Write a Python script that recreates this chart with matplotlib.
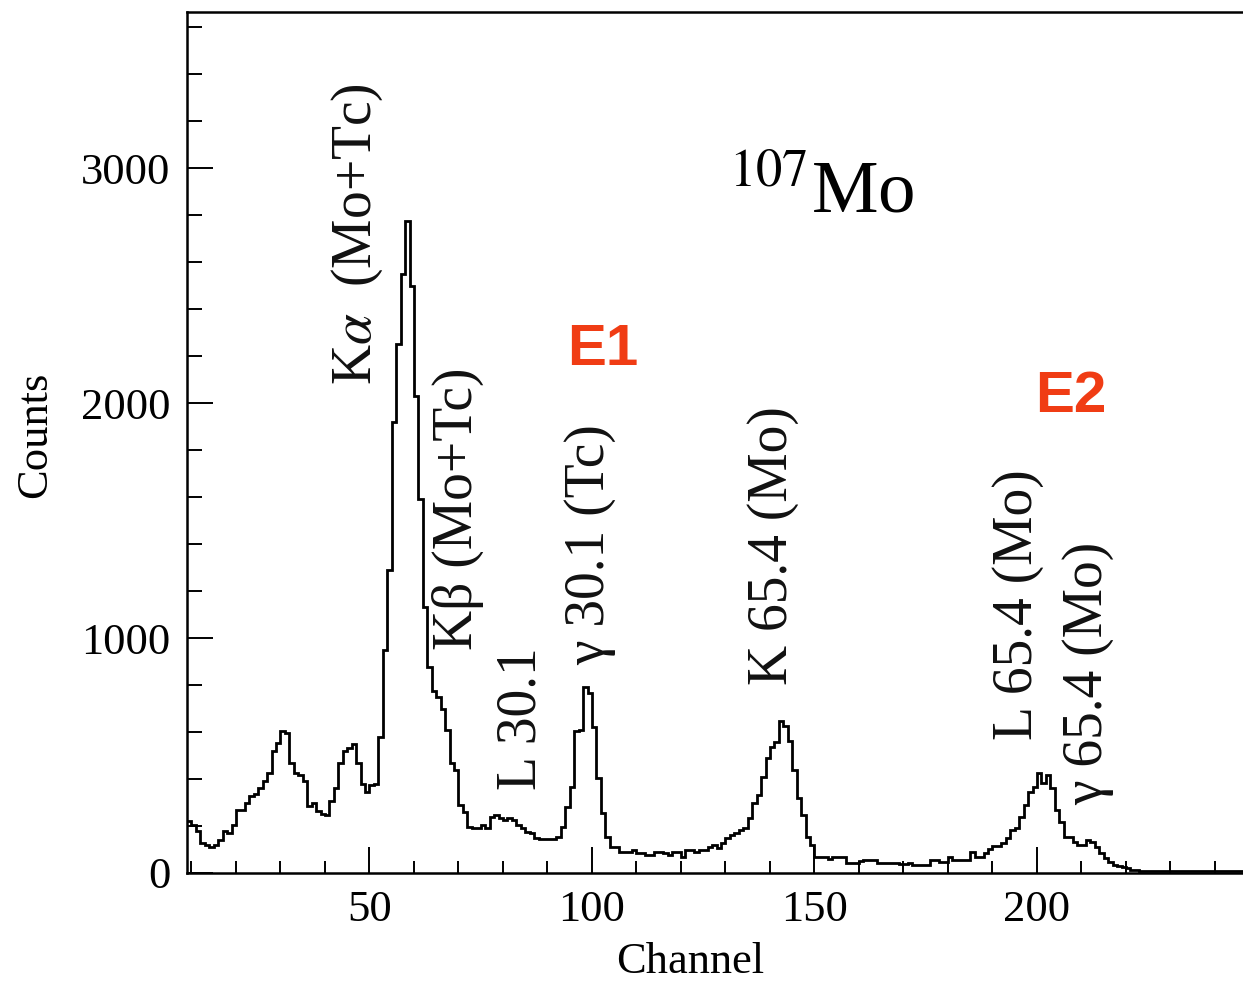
import numpy as np
import matplotlib
matplotlib.use("Agg")
import matplotlib.pyplot as plt
from matplotlib.ticker import MultipleLocator

plt.rcParams['font.family'] = ['Liberation Serif', 'DejaVu Serif']
plt.rcParams['mathtext.fontset'] = 'stix'

# histogram: one bin per channel, first bin starts at channel 9
first_channel = 9
counts = [
    220, 205, 177, 128, 120, 109, 120, 142, 177, 170, 203,           # 9-19
    270, 270, 298, 326, 336, 362, 390, 425, 518, 553,                # 20-29
    605, 596, 468, 425, 418, 390, 284, 300, 262, 252,                # 30-39
    245, 305, 362, 470, 518, 532, 550, 468, 380, 345,                # 40-49
    375, 380, 580, 950, 1290, 1920, 2250, 2550, 2775, 2500,          # 50-59
    2030, 1590, 1130, 875, 775, 747, 700, 608, 467, 438,             # 60-69
    289, 261, 197, 190, 190, 204, 190, 240, 247, 233,                # 70-79
    225, 233, 225, 204, 190, 176, 169, 147, 143, 143,                # 80-89
    143, 143, 155, 197, 282, 367, 605, 610, 793, 765,                # 90-99
    622, 403, 255, 154, 112, 112, 91, 91, 91, 98,                    # 100-109
    84, 84, 77, 77, 91, 91, 84, 77, 91, 91,                          # 110-119
    70, 98, 98, 91, 98, 98, 112, 119, 105, 126,                      # 120-129
    147, 162, 169, 183, 190, 232, 296, 332, 410, 488,                # 130-139
    537, 559, 648, 625, 560, 438, 318, 247, 155, 119,                # 140-149
    70, 70, 70, 58, 70, 70, 70, 44, 44, 44,                          # 150-159
    50, 55, 55, 55, 41, 44, 44, 44, 44, 40,                          # 160-169
    40, 41, 34, 34, 34, 34, 55, 55, 48, 46,                          # 170-179
    67, 55, 55, 55, 55, 91, 69, 69, 84, 101,                         # 180-189
    115, 115, 126, 147, 183, 190, 240, 289, 346, 367,                # 190-199
    424, 381, 417, 360, 268, 218, 155, 155, 133, 119,                # 200-209
    119, 140, 133, 112, 84, 62, 48, 34, 30, 27,                      # 210-219
    20, 13, 13, 10, 10, 10, 10, 10, 10, 10,                          # 220-229
    10, 10, 10, 10, 10, 10, 10, 10, 10, 10,                          # 230-239
    10, 10, 10, 10, 10, 10, 10, 10, 10,                              # 240-248
]

# peak labels: text, channel, counts (bottom of rotated text)
peak_labels = [r'K$\alpha$  (Mo+Tc)', 'Kβ (Mo+Tc)', 'L 30.1', 'γ 30.1 (Tc)',
               'K 65.4 (Mo)', 'L 65.4 (Mo)', 'γ 65.4 (Mo)']
peak_x = [47.3, 69.8, 84.2, 99.5, 140.7, 195.8, 211.5]
peak_y = [2077, 949, 353, 885, 800, 566, 289]

counts = np.array(counts)
edges = np.arange(first_channel, first_channel + len(counts) + 1)

fig = plt.figure(figsize=(12.43, 9.84), dpi=100)
ax = fig.add_axes([187/1243, 111/984, 1068/1243, 861/984])

ax.stairs(counts, edges, baseline=None, color='black', lw=2.0)

ax.set_xlim(9, 249)
ax.set_ylim(0, 3664)

ax.xaxis.set_major_locator(MultipleLocator(50))
ax.xaxis.set_minor_locator(MultipleLocator(10))
ax.yaxis.set_major_locator(MultipleLocator(1000))
ax.yaxis.set_minor_locator(MultipleLocator(200))
ax.tick_params(which='both', direction='in', width=1.4, labelsize=32, pad=12)
ax.tick_params(which='major', length=19)
ax.tick_params(axis='x', which='minor', length=9)
ax.tick_params(axis='y', which='minor', length=11)
for s in ax.spines.values():
    s.set_linewidth(1.8)

for txt, x, y in zip(peak_labels, peak_x, peak_y):
    ax.text(x, y, txt, rotation=90, ha='center', va='bottom', fontsize=40,
            color='#111111')

ax.text(130.5, 2740, r'$^{107}$Mo', fontsize=54, ha='left', va='bottom')

ax.text(102.4, 2226, 'E1', color='#f03c14', fontsize=42, fontweight='bold',
        family='Liberation Sans', ha='center', va='center')
ax.text(207.5, 2026, 'E2', color='#f03c14', fontsize=42, fontweight='bold',
        family='Liberation Sans', ha='center', va='center')

fig.text(690/1243, 1 - 962/984, 'Channel', fontsize=32, ha='center', va='center')
fig.text(35/1243, 1 - 435/984, 'Counts', fontsize=32, rotation=90,
         ha='center', va='center')

fig.savefig('out.png', dpi=100)
